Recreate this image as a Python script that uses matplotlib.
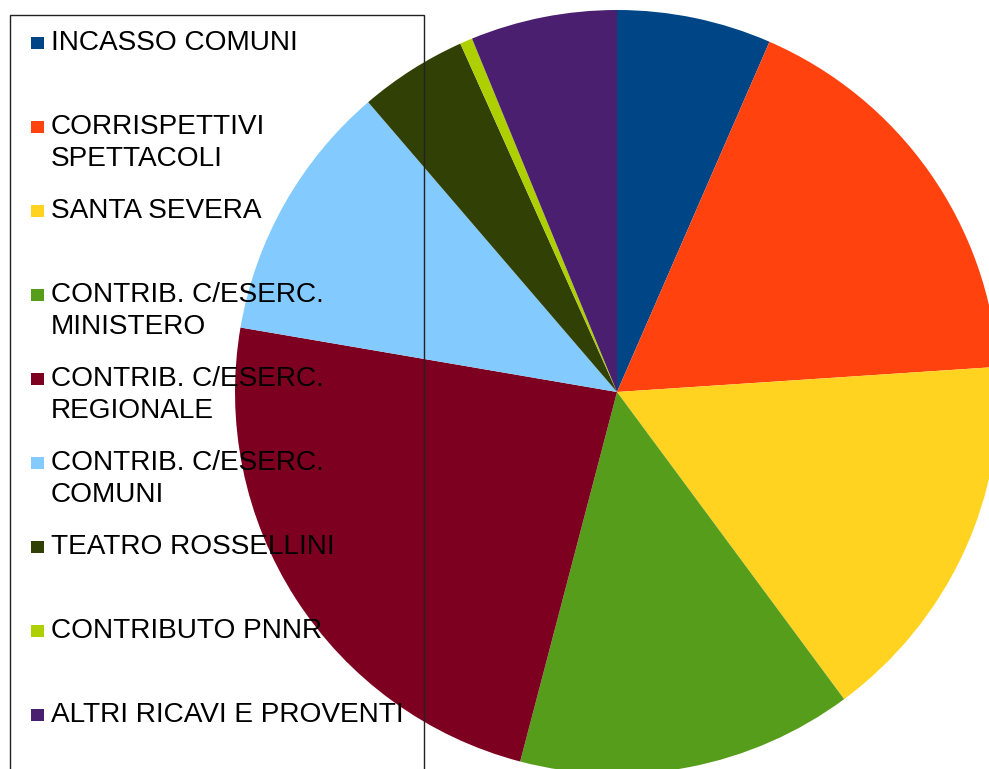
import matplotlib.pyplot as plt
from matplotlib.patches import Rectangle

# slice shares (percent)
labels = [
    "INCASSO COMUNI",
    "CORRISPETTIVI\nSPETTACOLI",
    "SANTA SEVERA",
    "CONTRIB. C/ESERC.\nMINISTERO",
    "CONTRIB. C/ESERC.\nREGIONALE",
    "CONTRIB. C/ESERC.\nCOMUNI",
    "TEATRO ROSSELLINI",
    "CONTRIBUTO PNNR",
    "ALTRI RICAVI E PROVENTI",
]
values = [6.53, 17.4, 15.9, 14.2, 23.6, 11.0, 4.56, 0.53, 6.19]
colors = ["#004586", "#ff420e", "#ffd320", "#579d1c", "#7e0021",
          "#83caff", "#314004", "#aecf00", "#4b1f6f"]

W, H = 989, 769
fig = plt.figure(figsize=(W / 100, H / 100), dpi=100)
ax = fig.add_axes([0, 0, 1, 1])

ax.pie(values, colors=colors, startangle=90, counterclock=False,
       center=(617, H - 392), radius=382,
       wedgeprops=dict(linewidth=0))
ax.set_xlim(0, W)
ax.set_ylim(0, H)
ax.set_aspect("equal")
ax.axis("off")

# legend frame (transparent, drawn over the pie, runs off the bottom)
ax.add_patch(Rectangle((10, -5), 414, H - 15 + 5, fill=False,
                       edgecolor="#222222", lw=1.0, zorder=5))

step = 84
for i, (lab, col) in enumerate(zip(labels, colors)):
    top = step * i
    ax.add_patch(Rectangle((31, H - (49 + top)), 12.5, 12.5,
                           facecolor=col, edgecolor="none", zorder=6))
    for j, line in enumerate(lab.split("\n")):
        ax.text(51, H - (50 + top + 31.5 * j), line, fontsize=20.2,
                family="Liberation Sans", va="baseline", ha="left",
                color="black", zorder=6)

fig.savefig("out.png", dpi=100)
